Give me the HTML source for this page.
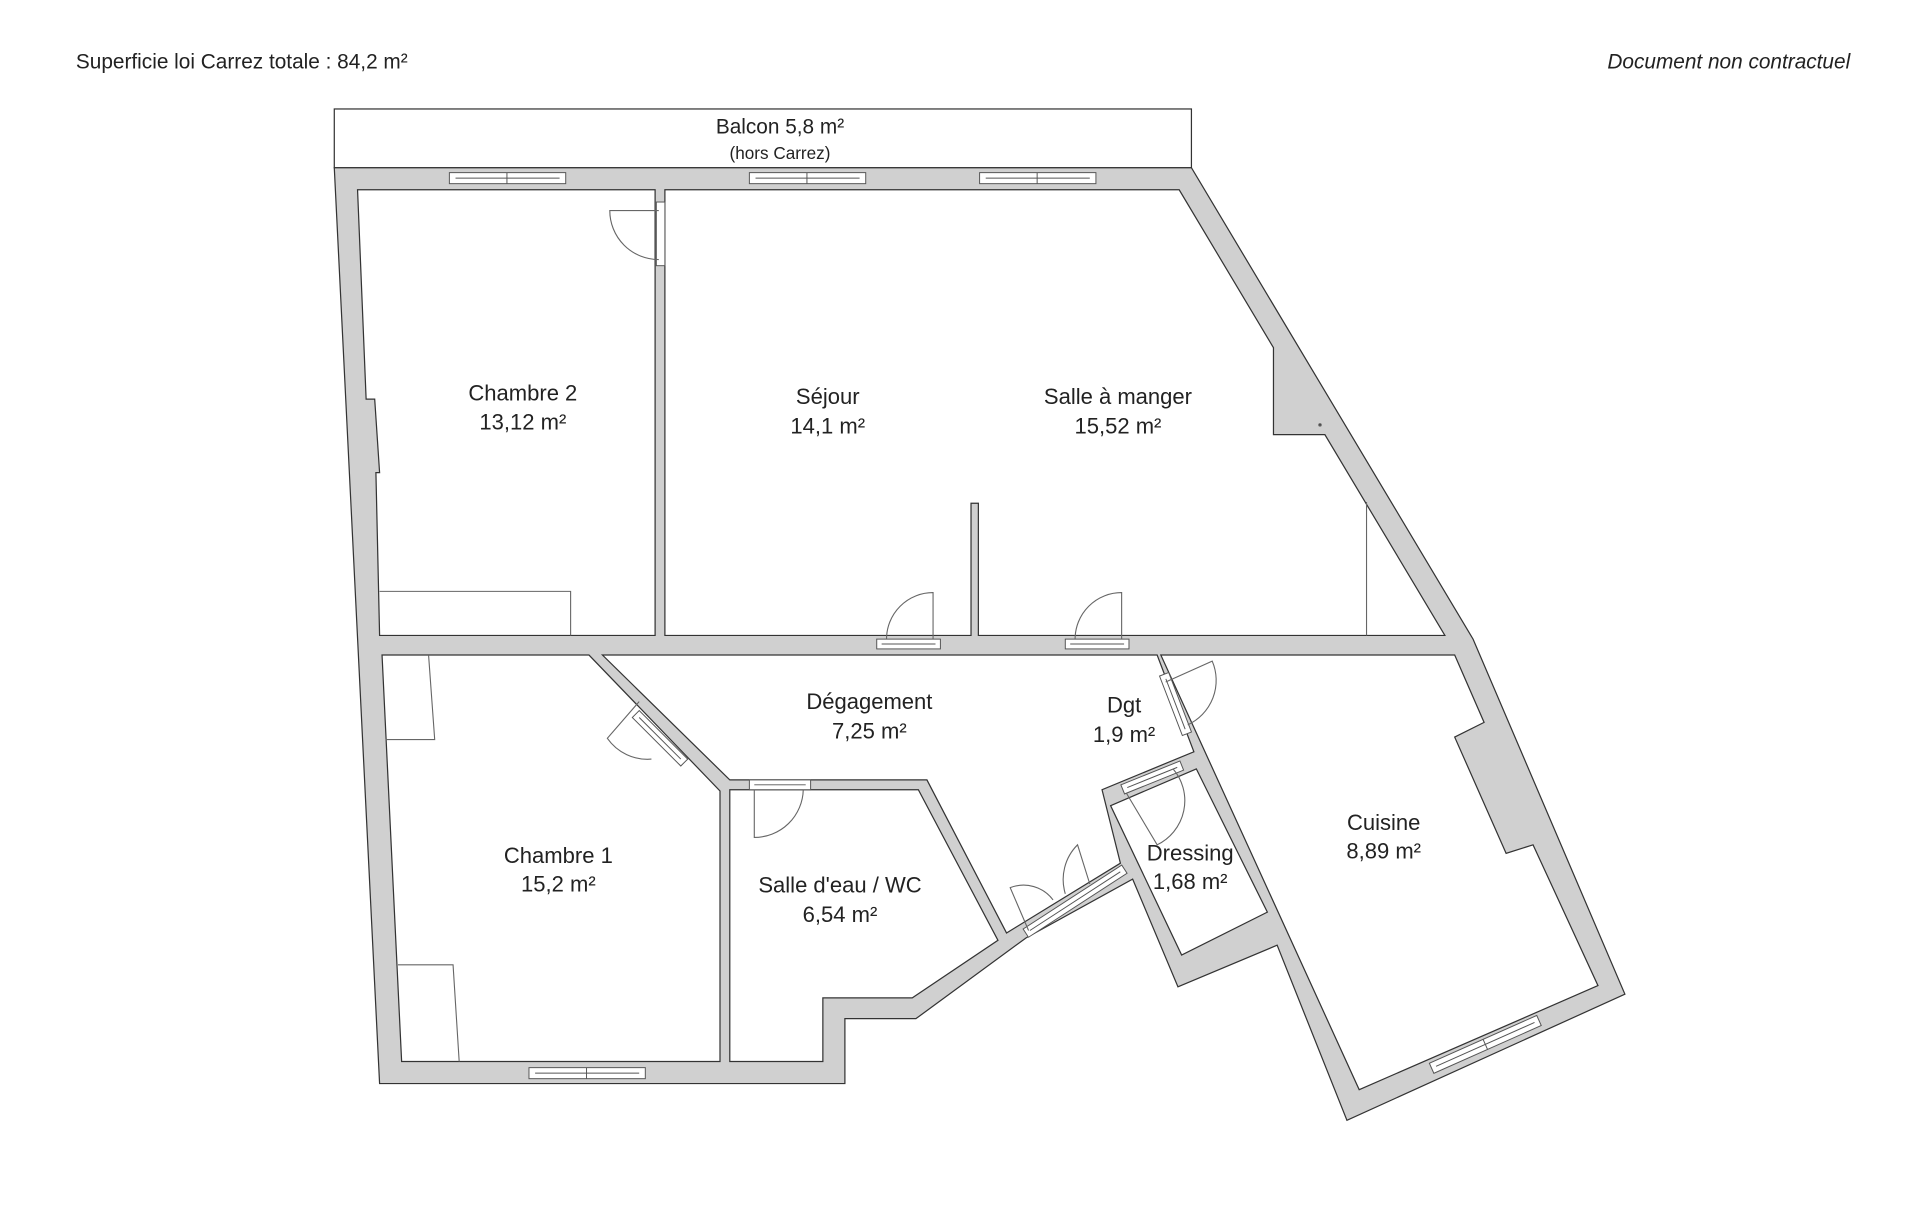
<!DOCTYPE html>
<html><head><meta charset="utf-8"><style>
html,body{margin:0;padding:0;background:#fff;}
svg{display:block;}
text{font-family:"Liberation Sans",sans-serif;fill:#222;}
</style></head><body>
<svg width="1920" height="1206" viewBox="0 0 1568 985" preserveAspectRatio="none" xmlns="http://www.w3.org/2000/svg">
<text x="62" y="56" font-size="17">Superficie loi Carrez totale : 84,2 m²</text>
<text x="1511" y="56" font-size="17" text-anchor="end" font-style="italic">Document non contractuel</text>
<rect x="273" y="89" width="700" height="48" fill="#fff" stroke="#333" stroke-width="1"/>
<text x="637" y="109" font-size="17" text-anchor="middle">Balcon 5,8 m²</text>
<text x="637" y="130" font-size="14" text-anchor="middle">(hors Carrez)</text>
<polygon points="273,137 973,137 1203,522 1327,812 1100,915 1043,772 962,806 925,718 838,766 748,832 690,832 690,885 310,885" fill="#d0d0d0" stroke="#333" stroke-width="1"/>
<g fill="#fff" stroke="#333" stroke-width="1">
<polygon points="292,155 535,155 535,519 310,519 307,386 310,386 306,326 299,326"/>
<polygon points="543,155 963,155 1040,284 1040,355 1082,355 1180,519 799,519 799,411 793,411 793,519 543,519"/>
<polygon points="312,535 481,535 588,646 588,867 328,867"/>
<polygon points="596,645 750,645 815,768 745,815 672,815 672,867 596,867"/>
<polygon points="492,535 945,535 975,614 900,645 915,705 822,762 757,637 596,637"/>
<polygon points="907,658 977,628 1035,745 965,780"/>
<polygon points="948,535 1188,535 1212,590 1188,602 1230,697 1252,690 1305,805 1110,890"/>
</g>
<g fill="#fff" stroke="#555" stroke-width="0.8">
<rect x="367" y="141" width="95" height="9"/><line x1="414" y1="141" x2="414" y2="150"/><line x1="372" y1="145.5" x2="457" y2="145.5"/>
<rect x="612" y="141" width="95" height="9"/><line x1="659" y1="141" x2="659" y2="150"/><line x1="617" y1="145.5" x2="702" y2="145.5"/>
<rect x="800" y="141" width="95" height="9"/><line x1="847" y1="141" x2="847" y2="150"/><line x1="805" y1="145.5" x2="890" y2="145.5"/>
<rect x="432" y="872" width="95" height="9"/><line x1="479" y1="872" x2="479" y2="881"/><line x1="437" y1="876.5" x2="522" y2="876.5"/>
<rect x="716" y="522" width="52" height="8"/><line x1="720" y1="526" x2="764" y2="526"/>
<rect x="870" y="522" width="52" height="8"/><line x1="874" y1="526" x2="918" y2="526"/>
<rect x="612" y="637" width="50" height="8"/><line x1="616" y1="641" x2="658" y2="641"/>
<rect x="536" y="165" width="7" height="52"/>
<g transform="translate(1213,853) rotate(-24)"><rect x="-48" y="-4.5" width="96" height="9"/><line x1="0" y1="-4.5" x2="0" y2="4.5"/><line x1="-44" y1="0" x2="44" y2="0"/></g>
<g transform="translate(878,736) rotate(-33)"><rect x="-48" y="-4" width="96" height="8"/><line x1="-44" y1="0" x2="44" y2="0"/></g>
<g transform="translate(539,603) rotate(45)"><rect x="-28" y="-4" width="56" height="8"/><line x1="-24" y1="0" x2="24" y2="0"/></g>
<g transform="translate(960,575) rotate(69)"><rect x="-26" y="-4" width="52" height="8"/><line x1="-22" y1="0" x2="22" y2="0"/></g>
<g transform="translate(941,635) rotate(-22)"><rect x="-26" y="-4" width="52" height="8"/><line x1="-22" y1="0" x2="22" y2="0"/></g>
</g>
<g fill="none" stroke="#666" stroke-width="0.9">
<path d="M538,172 L498,172 A40,40 0 0 0 538,212"/>
<path d="M762,522 L762,484 A38,38 0 0 0 724,522"/>
<path d="M916,522 L916,484 A38,38 0 0 0 878,522"/>
<path d="M616,645 L616,684 A40,40 0 0 0 656,645"/>
<path d="M522,573 L496,603 A40,40 0 0 0 532,620"/>
<path d="M952,557 L990,540 A40,40 0 0 1 970,592"/>
<path d="M920,648 L945,690 A40,40 0 0 0 958,628"/>
<path d="M840,760 L825,725 A30,30 0 0 1 860,735"/>
<path d="M890,722 L880,690 A40,40 0 0 0 870,730"/>
<polyline points="310,483 466,483 466,519"/>
<polyline points="350,535 355,604 315,604"/>
<polyline points="325,788 370,788 375,867"/>
<line x1="1116" y1="410" x2="1116" y2="519"/>
<circle cx="1078" cy="347" r="1" fill="#333"/>
</g>
<g font-size="18" text-anchor="middle">
<text x="427" y="327">Chambre 2</text><text x="427" y="351">13,12 m²</text>
<text x="676" y="330">Séjour</text><text x="676" y="354">14,1 m²</text>
<text x="913" y="330">Salle à manger</text><text x="913" y="354">15,52 m²</text>
<text x="710" y="579">Dégagement</text><text x="710" y="603">7,25 m²</text>
<text x="918" y="582">Dgt</text><text x="918" y="606">1,9 m²</text>
<text x="456" y="705">Chambre 1</text><text x="456" y="728">15,2 m²</text>
<text x="686" y="729">Salle d'eau / WC</text><text x="686" y="753">6,54 m²</text>
<text x="972" y="703">Dressing</text><text x="972" y="726">1,68 m²</text>
<text x="1130" y="678">Cuisine</text><text x="1130" y="701">8,89 m²</text>
</g>
</svg>
</body></html>
